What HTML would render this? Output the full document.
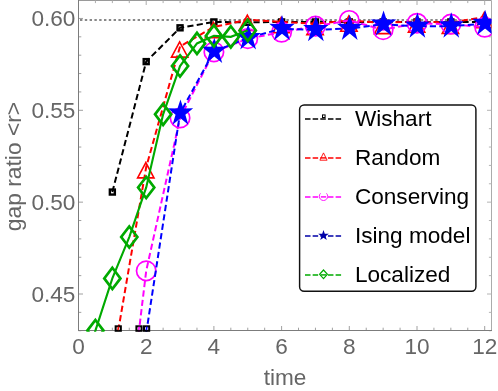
<!DOCTYPE html>
<html><head><meta charset="utf-8"><title>gap ratio</title>
<style>html,body{margin:0;padding:0;background:#fff;}body{width:498px;height:391px;overflow:hidden;}svg{display:block;will-change:transform;}text{font-family:"Liberation Sans",sans-serif;}</style></head><body>
<svg width="498" height="391" viewBox="0 0 498 391">
<rect x="0" y="0" width="498" height="391" fill="#fff"/>
<defs><clipPath id="pc"><rect x="78.50" y="0.50" width="413.00" height="331.20"/></clipPath></defs>
<g stroke="#9a9a9a" stroke-width="1" fill="none">
<line x1="78.50" y1="0.50" x2="491.50" y2="0.50"/>
<line x1="491.50" y1="0.50" x2="491.50" y2="330.50" stroke="#ababab"/>
<line x1="78.50" y1="0.50" x2="78.50" y2="5.00" stroke="#adadad"/>
<line x1="95.42" y1="0.50" x2="95.42" y2="3.10" stroke="#adadad"/>
<line x1="112.35" y1="0.50" x2="112.35" y2="3.10" stroke="#adadad"/>
<line x1="129.28" y1="0.50" x2="129.28" y2="3.10" stroke="#adadad"/>
<line x1="146.20" y1="0.50" x2="146.20" y2="5.00" stroke="#adadad"/>
<line x1="163.12" y1="0.50" x2="163.12" y2="3.10" stroke="#adadad"/>
<line x1="180.05" y1="0.50" x2="180.05" y2="3.10" stroke="#adadad"/>
<line x1="196.98" y1="0.50" x2="196.98" y2="3.10" stroke="#adadad"/>
<line x1="213.90" y1="0.50" x2="213.90" y2="5.00" stroke="#adadad"/>
<line x1="230.83" y1="0.50" x2="230.83" y2="3.10" stroke="#adadad"/>
<line x1="247.75" y1="0.50" x2="247.75" y2="3.10" stroke="#adadad"/>
<line x1="264.68" y1="0.50" x2="264.68" y2="3.10" stroke="#adadad"/>
<line x1="281.60" y1="0.50" x2="281.60" y2="5.00" stroke="#adadad"/>
<line x1="298.52" y1="0.50" x2="298.52" y2="3.10" stroke="#adadad"/>
<line x1="315.45" y1="0.50" x2="315.45" y2="3.10" stroke="#adadad"/>
<line x1="332.38" y1="0.50" x2="332.38" y2="3.10" stroke="#adadad"/>
<line x1="349.30" y1="0.50" x2="349.30" y2="5.00" stroke="#adadad"/>
<line x1="366.23" y1="0.50" x2="366.23" y2="3.10" stroke="#adadad"/>
<line x1="383.15" y1="0.50" x2="383.15" y2="3.10" stroke="#adadad"/>
<line x1="400.07" y1="0.50" x2="400.07" y2="3.10" stroke="#adadad"/>
<line x1="417.00" y1="0.50" x2="417.00" y2="5.00" stroke="#adadad"/>
<line x1="433.93" y1="0.50" x2="433.93" y2="3.10" stroke="#adadad"/>
<line x1="450.85" y1="0.50" x2="450.85" y2="3.10" stroke="#adadad"/>
<line x1="467.78" y1="0.50" x2="467.78" y2="3.10" stroke="#adadad"/>
<line x1="484.70" y1="0.50" x2="484.70" y2="5.00" stroke="#adadad"/>
<line x1="491.50" y1="330.74" x2="488.90" y2="330.74" stroke="#b4b4b4"/>
<line x1="491.50" y1="312.37" x2="488.90" y2="312.37" stroke="#b4b4b4"/>
<line x1="491.50" y1="294.00" x2="487.00" y2="294.00" stroke="#b4b4b4"/>
<line x1="491.50" y1="275.63" x2="488.90" y2="275.63" stroke="#b4b4b4"/>
<line x1="491.50" y1="257.26" x2="488.90" y2="257.26" stroke="#b4b4b4"/>
<line x1="491.50" y1="238.89" x2="488.90" y2="238.89" stroke="#b4b4b4"/>
<line x1="491.50" y1="220.52" x2="488.90" y2="220.52" stroke="#b4b4b4"/>
<line x1="491.50" y1="202.15" x2="487.00" y2="202.15" stroke="#b4b4b4"/>
<line x1="491.50" y1="183.78" x2="488.90" y2="183.78" stroke="#b4b4b4"/>
<line x1="491.50" y1="165.41" x2="488.90" y2="165.41" stroke="#b4b4b4"/>
<line x1="491.50" y1="147.04" x2="488.90" y2="147.04" stroke="#b4b4b4"/>
<line x1="491.50" y1="128.67" x2="488.90" y2="128.67" stroke="#b4b4b4"/>
<line x1="491.50" y1="110.30" x2="487.00" y2="110.30" stroke="#b4b4b4"/>
<line x1="491.50" y1="91.93" x2="488.90" y2="91.93" stroke="#b4b4b4"/>
<line x1="491.50" y1="73.56" x2="488.90" y2="73.56" stroke="#b4b4b4"/>
<line x1="491.50" y1="55.19" x2="488.90" y2="55.19" stroke="#b4b4b4"/>
<line x1="491.50" y1="36.82" x2="488.90" y2="36.82" stroke="#b4b4b4"/>
<line x1="491.50" y1="18.45" x2="487.00" y2="18.45" stroke="#b4b4b4"/>
</g>
<g stroke="#a0a0a0" stroke-width="1" fill="none">
<line x1="78.50" y1="330.50" x2="78.50" y2="326.00"/>
<line x1="95.42" y1="330.50" x2="95.42" y2="327.70"/>
<line x1="112.35" y1="330.50" x2="112.35" y2="327.70"/>
<line x1="129.28" y1="330.50" x2="129.28" y2="327.70"/>
<line x1="146.20" y1="330.50" x2="146.20" y2="326.00"/>
<line x1="163.12" y1="330.50" x2="163.12" y2="327.70"/>
<line x1="180.05" y1="330.50" x2="180.05" y2="327.70"/>
<line x1="196.98" y1="330.50" x2="196.98" y2="327.70"/>
<line x1="213.90" y1="330.50" x2="213.90" y2="326.00"/>
<line x1="230.83" y1="330.50" x2="230.83" y2="327.70"/>
<line x1="247.75" y1="330.50" x2="247.75" y2="327.70"/>
<line x1="264.68" y1="330.50" x2="264.68" y2="327.70"/>
<line x1="281.60" y1="330.50" x2="281.60" y2="326.00"/>
<line x1="298.52" y1="330.50" x2="298.52" y2="327.70"/>
<line x1="315.45" y1="330.50" x2="315.45" y2="327.70"/>
<line x1="332.38" y1="330.50" x2="332.38" y2="327.70"/>
<line x1="349.30" y1="330.50" x2="349.30" y2="326.00"/>
<line x1="366.23" y1="330.50" x2="366.23" y2="327.70"/>
<line x1="383.15" y1="330.50" x2="383.15" y2="327.70"/>
<line x1="400.07" y1="330.50" x2="400.07" y2="327.70"/>
<line x1="417.00" y1="330.50" x2="417.00" y2="326.00"/>
<line x1="433.93" y1="330.50" x2="433.93" y2="327.70"/>
<line x1="450.85" y1="330.50" x2="450.85" y2="327.70"/>
<line x1="467.78" y1="330.50" x2="467.78" y2="327.70"/>
<line x1="484.70" y1="330.50" x2="484.70" y2="326.00"/>
<line x1="78.50" y1="330.74" x2="81.30" y2="330.74"/>
<line x1="78.50" y1="312.37" x2="81.30" y2="312.37"/>
<line x1="78.50" y1="294.00" x2="83.00" y2="294.00"/>
<line x1="78.50" y1="275.63" x2="81.30" y2="275.63"/>
<line x1="78.50" y1="257.26" x2="81.30" y2="257.26"/>
<line x1="78.50" y1="238.89" x2="81.30" y2="238.89"/>
<line x1="78.50" y1="220.52" x2="81.30" y2="220.52"/>
<line x1="78.50" y1="202.15" x2="83.00" y2="202.15"/>
<line x1="78.50" y1="183.78" x2="81.30" y2="183.78"/>
<line x1="78.50" y1="165.41" x2="81.30" y2="165.41"/>
<line x1="78.50" y1="147.04" x2="81.30" y2="147.04"/>
<line x1="78.50" y1="128.67" x2="81.30" y2="128.67"/>
<line x1="78.50" y1="110.30" x2="83.00" y2="110.30"/>
<line x1="78.50" y1="91.93" x2="81.30" y2="91.93"/>
<line x1="78.50" y1="73.56" x2="81.30" y2="73.56"/>
<line x1="78.50" y1="55.19" x2="81.30" y2="55.19"/>
<line x1="78.50" y1="36.82" x2="81.30" y2="36.82"/>
<line x1="78.50" y1="18.45" x2="83.00" y2="18.45"/>
</g>
<g stroke="#7c7c7c" stroke-width="1" fill="none">
<line x1="78.50" y1="0.00" x2="78.50" y2="331.00"/>
<line x1="78.00" y1="330.50" x2="492.00" y2="330.50"/>
</g>
<line x1="80.00" y1="20.00" x2="491.50" y2="20.00" stroke="#626262" stroke-width="1.4" stroke-dasharray="2.4 2.4"/>
<g clip-path="url(#pc)" fill="none" stroke-linejoin="miter">
<polyline points="112.35,192.05 146.20,61.62 180.05,27.82 213.90,21.94 247.75,22.31 281.60,21.94 315.45,21.94 349.30,21.94 383.15,21.94 417.00,21.94 450.85,21.94 484.70,21.94" stroke="#000" stroke-width="2.0" stroke-dasharray="6.2 3.3"/>
<rect x="109.85" y="189.55" width="5" height="5" stroke="#000" stroke-width="2.4" fill="none"/>
<rect x="143.70" y="59.12" width="5" height="5" stroke="#000" stroke-width="2.4" fill="none"/>
<rect x="177.55" y="25.32" width="5" height="5" stroke="#000" stroke-width="2.4" fill="none"/>
<rect x="211.40" y="19.44" width="5" height="5" stroke="#000" stroke-width="2.4" fill="none"/>
<rect x="245.25" y="19.81" width="5" height="5" stroke="#000" stroke-width="2.4" fill="none"/>
<rect x="279.10" y="19.44" width="5" height="5" stroke="#000" stroke-width="2.4" fill="none"/>
<rect x="312.95" y="19.44" width="5" height="5" stroke="#000" stroke-width="2.4" fill="none"/>
<rect x="346.80" y="19.44" width="5" height="5" stroke="#000" stroke-width="2.4" fill="none"/>
<rect x="380.65" y="19.44" width="5" height="5" stroke="#000" stroke-width="2.4" fill="none"/>
<rect x="414.50" y="19.44" width="5" height="5" stroke="#000" stroke-width="2.4" fill="none"/>
<rect x="448.35" y="19.44" width="5" height="5" stroke="#000" stroke-width="2.4" fill="none"/>
<rect x="482.20" y="19.44" width="5" height="5" stroke="#000" stroke-width="2.4" fill="none"/>
<polyline points="112.35,364.91 146.20,167.06 180.05,46.37 213.90,26.90 247.75,19.74 281.60,21.94 315.45,23.78 349.30,20.47 383.15,22.86 417.00,21.39 450.85,22.68 484.70,16.98" stroke="#f00" stroke-width="2.0" stroke-dasharray="6.2 3.3" stroke-dashoffset="3.2"/>
<polygon points="111.95,360.41 103.75,375.71 120.15,375.71" stroke="#f00" stroke-width="1.6"/>
<polygon points="145.80,162.56 137.60,177.86 154.00,177.86" stroke="#f00" stroke-width="1.6"/>
<polygon points="179.65,41.87 171.45,57.17 187.85,57.17" stroke="#f00" stroke-width="1.6"/>
<polygon points="213.50,22.40 205.30,37.70 221.70,37.70" stroke="#f00" stroke-width="1.6"/>
<polygon points="247.35,15.24 239.15,30.54 255.55,30.54" stroke="#f00" stroke-width="1.6"/>
<polygon points="281.20,17.44 273.00,32.74 289.40,32.74" stroke="#f00" stroke-width="1.6"/>
<polygon points="315.05,19.28 306.85,34.58 323.25,34.58" stroke="#f00" stroke-width="1.6"/>
<polygon points="348.90,15.97 340.70,31.27 357.10,31.27" stroke="#f00" stroke-width="1.6"/>
<polygon points="382.75,18.36 374.55,33.66 390.95,33.66" stroke="#f00" stroke-width="1.6"/>
<polygon points="416.60,16.89 408.40,32.19 424.80,32.19" stroke="#f00" stroke-width="1.6"/>
<polygon points="450.45,18.18 442.25,33.48 458.65,33.48" stroke="#f00" stroke-width="1.6"/>
<polygon points="484.30,12.48 476.10,27.78 492.50,27.78" stroke="#f00" stroke-width="1.6"/>
<polyline points="112.35,551.18 146.20,270.85 180.05,118.02 213.90,51.88 247.75,38.66 281.60,32.23 315.45,26.17 349.30,20.47 383.15,29.66 417.00,23.23 450.85,24.14 484.70,27.27" stroke="#f0f" stroke-width="2.0" stroke-dasharray="6.2 3.3"/>
<circle cx="112.35" cy="551.18" r="9.7" stroke="#f0f" stroke-width="1.7"/>
<circle cx="146.20" cy="270.85" r="9.7" stroke="#f0f" stroke-width="1.7"/>
<circle cx="180.05" cy="118.02" r="9.7" stroke="#f0f" stroke-width="1.7"/>
<circle cx="213.90" cy="51.88" r="9.7" stroke="#f0f" stroke-width="1.7"/>
<circle cx="247.75" cy="38.66" r="9.7" stroke="#f0f" stroke-width="1.7"/>
<circle cx="281.60" cy="32.23" r="9.7" stroke="#f0f" stroke-width="1.7"/>
<circle cx="315.45" cy="26.17" r="9.7" stroke="#f0f" stroke-width="1.7"/>
<circle cx="349.30" cy="20.47" r="9.7" stroke="#f0f" stroke-width="1.7"/>
<circle cx="383.15" cy="29.66" r="9.7" stroke="#f0f" stroke-width="1.7"/>
<circle cx="417.00" cy="23.23" r="9.7" stroke="#f0f" stroke-width="1.7"/>
<circle cx="450.85" cy="24.14" r="9.7" stroke="#f0f" stroke-width="1.7"/>
<circle cx="484.70" cy="27.27" r="9.7" stroke="#f0f" stroke-width="1.7"/>
<polyline points="146.20,333.13 180.05,113.24 213.90,51.52 247.75,37.92 281.60,28.74 315.45,29.84 349.30,28.55 383.15,24.33 417.00,26.35 450.85,26.17 484.70,23.59" stroke="#00f" stroke-width="2.0" stroke-dasharray="6.2 3.3"/>
<polygon points="180.45,99.44 183.45,108.44 193.15,108.34 185.35,114.64 188.35,124.74 180.45,118.14 172.55,124.74 175.55,114.64 167.75,108.34 177.45,108.44" fill="#00f" stroke="none"/>
<polygon points="214.30,37.72 217.30,46.72 227.00,46.62 219.20,52.92 222.20,63.02 214.30,56.42 206.40,63.02 209.40,52.92 201.60,46.62 211.30,46.72" fill="#00f" stroke="none"/>
<polygon points="248.15,24.12 251.15,33.12 260.85,33.02 253.05,39.32 256.05,49.42 248.15,42.82 240.25,49.42 243.25,39.32 235.45,33.02 245.15,33.12" fill="#00f" stroke="none"/>
<polygon points="282.00,14.94 285.00,23.94 294.70,23.84 286.90,30.14 289.90,40.24 282.00,33.64 274.10,40.24 277.10,30.14 269.30,23.84 279.00,23.94" fill="#00f" stroke="none"/>
<polygon points="315.85,16.04 318.85,25.04 328.55,24.94 320.75,31.24 323.75,41.34 315.85,34.74 307.95,41.34 310.95,31.24 303.15,24.94 312.85,25.04" fill="#00f" stroke="none"/>
<polygon points="349.70,14.75 352.70,23.75 362.40,23.65 354.60,29.95 357.60,40.05 349.70,33.45 341.80,40.05 344.80,29.95 337.00,23.65 346.70,23.75" fill="#00f" stroke="none"/>
<polygon points="383.55,10.53 386.55,19.53 396.25,19.43 388.45,25.73 391.45,35.83 383.55,29.23 375.65,35.83 378.65,25.73 370.85,19.43 380.55,19.53" fill="#00f" stroke="none"/>
<polygon points="417.40,12.55 420.40,21.55 430.10,21.45 422.30,27.75 425.30,37.85 417.40,31.25 409.50,37.85 412.50,27.75 404.70,21.45 414.40,21.55" fill="#00f" stroke="none"/>
<polygon points="451.25,12.37 454.25,21.37 463.95,21.27 456.15,27.57 459.15,37.67 451.25,31.07 443.35,37.67 446.35,27.57 438.55,21.27 448.25,21.37" fill="#00f" stroke="none"/>
<polygon points="485.10,9.79 488.10,18.79 497.80,18.69 490.00,24.99 493.00,35.09 485.10,28.49 477.20,35.09 480.20,24.99 472.40,18.69 482.10,18.79" fill="#00f" stroke="none"/>
<polyline points="78.50,395.03 95.42,330.56 112.35,278.39 129.28,237.05 146.20,187.45 163.12,114.34 180.05,66.03 196.98,43.43 213.90,35.90 230.83,36.82 247.75,30.39" stroke="#00aa00" stroke-width="2.1"/>
<polygon points="95.42,319.96 103.52,330.56 95.42,341.16 87.33,330.56" stroke="#00aa00" stroke-width="2.7"/>
<polygon points="112.35,267.79 120.45,278.39 112.35,288.99 104.25,278.39" stroke="#00aa00" stroke-width="2.7"/>
<polygon points="129.28,226.45 137.38,237.05 129.28,247.65 121.18,237.05" stroke="#00aa00" stroke-width="2.7"/>
<polygon points="146.20,176.85 154.30,187.45 146.20,198.05 138.10,187.45" stroke="#00aa00" stroke-width="2.7"/>
<polygon points="163.12,103.74 171.22,114.34 163.12,124.94 155.03,114.34" stroke="#00aa00" stroke-width="2.7"/>
<polygon points="180.05,55.43 188.15,66.03 180.05,76.63 171.95,66.03" stroke="#00aa00" stroke-width="2.7"/>
<polygon points="196.98,32.83 205.08,43.43 196.98,54.03 188.88,43.43" stroke="#00aa00" stroke-width="2.7"/>
<polygon points="213.90,25.30 222.00,35.90 213.90,46.50 205.80,35.90" stroke="#00aa00" stroke-width="2.7"/>
<polygon points="230.83,26.22 238.93,36.82 230.83,47.42 222.73,36.82" stroke="#00aa00" stroke-width="2.7"/>
<polygon points="247.75,19.79 255.85,30.39 247.75,40.99 239.65,30.39" stroke="#00aa00" stroke-width="2.7"/>
</g>
<rect x="115.65" y="326.30" width="5.2" height="4.5" fill="#fff" stroke="#000" stroke-width="2"/>
<line x1="117.95" y1="330.2" x2="118.55" y2="326.6" stroke="#f00" stroke-width="1.6"/>
<rect x="136.40" y="326.30" width="5.2" height="4.5" fill="#fff" stroke="#000" stroke-width="2"/>
<line x1="138.70" y1="330.2" x2="139.30" y2="326.6" stroke="#f0f" stroke-width="1.6"/>
<rect x="144.00" y="326.30" width="5.2" height="4.5" fill="#fff" stroke="#000" stroke-width="2"/>
<line x1="146.30" y1="330.2" x2="146.90" y2="326.6" stroke="#00f" stroke-width="1.6"/>
<g fill="#666" font-size="22.6">
<text x="75.4" y="26.25" text-anchor="end">0.60</text>
<text x="75.4" y="118.10" text-anchor="end">0.55</text>
<text x="75.4" y="209.95" text-anchor="end">0.50</text>
<text x="75.4" y="301.80" text-anchor="end">0.45</text>
<text x="78.50" y="353.6" text-anchor="middle">0</text>
<text x="146.20" y="353.6" text-anchor="middle">2</text>
<text x="213.90" y="353.6" text-anchor="middle">4</text>
<text x="281.60" y="353.6" text-anchor="middle">6</text>
<text x="349.30" y="353.6" text-anchor="middle">8</text>
<text x="417.00" y="353.6" text-anchor="middle">10</text>
<text x="484.70" y="353.6" text-anchor="middle">12</text>
<text x="285" y="385" text-anchor="middle">time</text>
<text transform="translate(20.5,166.5) rotate(-90)" text-anchor="middle" font-size="22.8">gap ratio &lt;r&gt;</text>
</g>
<rect x="299.6" y="105.0" width="176.3" height="186.3" rx="4.5" ry="4.5" fill="#fff" stroke="#111" stroke-width="1.45"/>
<line x1="305.0" y1="118.90" x2="341.2" y2="118.90" stroke="#000" stroke-width="1.45" stroke-dasharray="5.5 2.15"/>
<rect x="322.50" y="114.90" width="2.6" height="2.6" fill="#fff" stroke="#000" stroke-width="1"/>
<text x="354.9" y="125.70" font-size="22.6" fill="#000">Wishart</text>
<line x1="305.0" y1="157.90" x2="341.2" y2="157.90" stroke="#f00" stroke-width="1.45" stroke-dasharray="5.5 2.15"/>
<polygon points="323.50,152.90 319.90,160.20 327.10,160.20" fill="#fff" stroke="#f00" stroke-width="0.9"/>
<line x1="320.80" y1="157.90" x2="326.20" y2="157.90" stroke="#f00" stroke-width="1.45"/>
<text x="354.9" y="164.70" font-size="22.6" fill="#000">Random</text>
<line x1="305.0" y1="196.90" x2="341.2" y2="196.90" stroke="#f0f" stroke-width="1.45" stroke-dasharray="5.5 2.15"/>
<path d="M326.47,193.33 A4.20,4.20 0 1 1 320.53,193.33" fill="#fff" stroke="#f0f" stroke-width="0.9"/>
<line x1="320.80" y1="196.90" x2="326.20" y2="196.90" stroke="#f0f" stroke-width="1.45"/>
<text x="354.9" y="203.70" font-size="22.6" fill="#000">Conserving</text>
<line x1="305.0" y1="235.90" x2="341.2" y2="235.90" stroke="#0000a8" stroke-width="1.45" stroke-dasharray="5.5 2.15"/>
<polygon points="323.50,229.90 324.79,233.72 328.83,233.77 325.59,236.18 326.79,240.03 323.50,237.70 320.21,240.03 321.41,236.18 318.17,233.77 322.21,233.72" fill="#0000a8"/>
<text x="354.9" y="242.70" font-size="22.6" fill="#000">Ising model</text>
<line x1="305.0" y1="274.90" x2="341.2" y2="274.90" stroke="#00aa00" stroke-width="1.45" stroke-dasharray="5.5 2.15"/>
<polygon points="323.50,270.00 327.40,274.30 323.50,278.60 319.60,274.30" fill="#fff" stroke="#00aa00" stroke-width="1.2"/>
<line x1="320.80" y1="274.90" x2="326.20" y2="274.90" stroke="#00aa00" stroke-width="1.45"/>
<text x="354.9" y="281.70" font-size="22.6" fill="#000">Localized</text>
</svg></body></html>
